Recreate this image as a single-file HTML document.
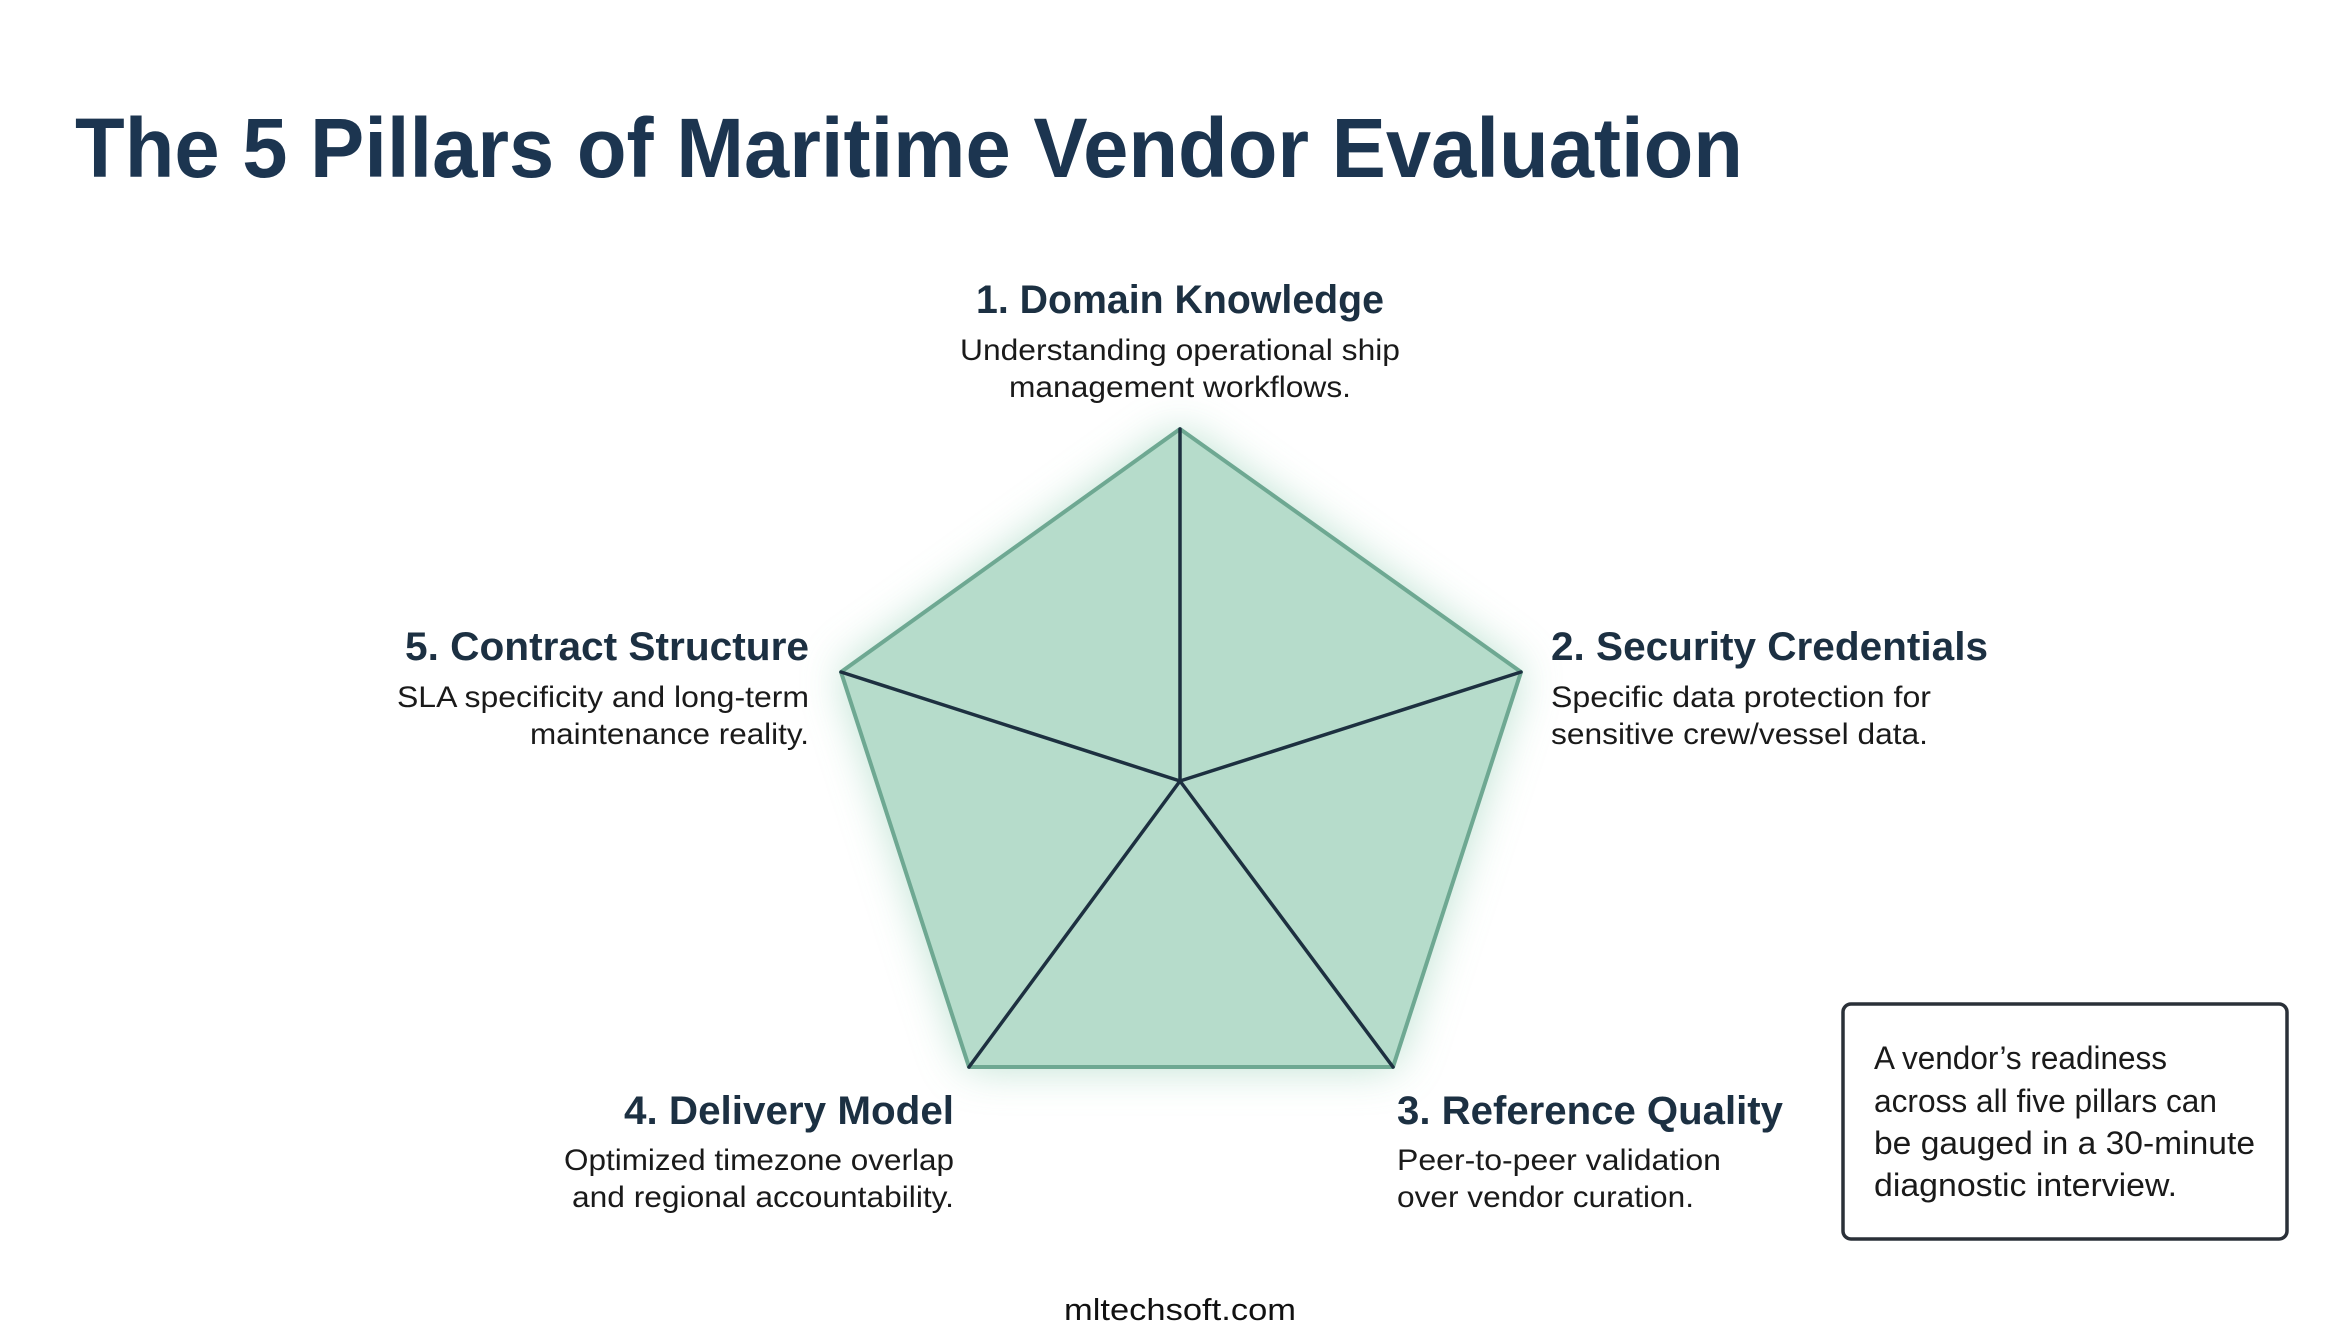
<!DOCTYPE html>
<html><head><meta charset="utf-8"><style>
html,body{margin:0;padding:0;background:#fff;}
svg{display:block;}
text{font-family:"Liberation Sans",sans-serif;}
</style></head><body>
<svg width="2346" height="1330" viewBox="0 0 2346 1330" xmlns="http://www.w3.org/2000/svg">
<defs>
<filter id="glow" x="-30%" y="-30%" width="160%" height="160%"><feGaussianBlur stdDeviation="22"/></filter>
</defs>
<rect width="2346" height="1330" fill="#fff"/>
<text x="75" y="177" font-size="84" font-weight="bold" fill="#1c3550" textLength="1668" lengthAdjust="spacingAndGlyphs">The 5 Pillars of Maritime Vendor Evaluation</text>

<polygon points="1180,429 1521,672 1393,1067 969,1067 841,672" fill="#a8d8c2" filter="url(#glow)" opacity="0.8"/>
<polygon points="1180,429 1521,672 1393,1067 969,1067 841,672" fill="#b6dccb" stroke="#6ea892" stroke-width="4" stroke-linejoin="round"/>
<g stroke="#1d3040" stroke-width="3.5" stroke-linecap="round">
<line x1="1180" y1="781" x2="1180" y2="429"/>
<line x1="1180" y1="781" x2="1521" y2="672"/>
<line x1="1180" y1="781" x2="1393" y2="1067"/>
<line x1="1180" y1="781" x2="969" y2="1067"/>
<line x1="1180" y1="781" x2="841" y2="672"/>
</g>

<g fill="#1c3042" font-weight="bold" font-size="40">
<text x="1180" y="313" text-anchor="middle" textLength="408" lengthAdjust="spacingAndGlyphs">1. Domain Knowledge</text>
<text x="809" y="660" text-anchor="end" textLength="404" lengthAdjust="spacingAndGlyphs">5. Contract Structure</text>
<text x="1551" y="660" textLength="437" lengthAdjust="spacingAndGlyphs">2. Security Credentials</text>
<text x="954" y="1124" text-anchor="end" textLength="330" lengthAdjust="spacingAndGlyphs">4. Delivery Model</text>
<text x="1397" y="1124" textLength="386" lengthAdjust="spacingAndGlyphs">3. Reference Quality</text>
</g>
<g fill="#1a1a1a" font-size="30">
<text x="1180" y="360" text-anchor="middle" textLength="440" lengthAdjust="spacingAndGlyphs">Understanding operational ship</text>
<text x="1180" y="397" text-anchor="middle" textLength="342" lengthAdjust="spacingAndGlyphs">management workflows.</text>
<text x="809" y="707" text-anchor="end" textLength="412" lengthAdjust="spacingAndGlyphs">SLA specificity and long-term</text>
<text x="809" y="744" text-anchor="end" textLength="279" lengthAdjust="spacingAndGlyphs">maintenance reality.</text>
<text x="1551" y="707" textLength="380" lengthAdjust="spacingAndGlyphs">Specific data protection for</text>
<text x="1551" y="744" textLength="377" lengthAdjust="spacingAndGlyphs">sensitive crew/vessel data.</text>
<text x="954" y="1170" text-anchor="end" textLength="390" lengthAdjust="spacingAndGlyphs">Optimized timezone overlap</text>
<text x="954" y="1207" text-anchor="end" textLength="382" lengthAdjust="spacingAndGlyphs">and regional accountability.</text>
<text x="1397" y="1170" textLength="324" lengthAdjust="spacingAndGlyphs">Peer-to-peer validation</text>
<text x="1397" y="1207" textLength="297" lengthAdjust="spacingAndGlyphs">over vendor curation.</text>
</g>

<rect x="1843" y="1004" width="444" height="235" rx="8" fill="#fff" stroke="#2a3038" stroke-width="3.5"/>
<g fill="#1a1a1a" font-size="32">
<text x="1874" y="1069" textLength="293" lengthAdjust="spacingAndGlyphs">A vendor’s readiness</text>
<text x="1874" y="1112" textLength="343" lengthAdjust="spacingAndGlyphs">across all five pillars can</text>
<text x="1874" y="1154" textLength="381" lengthAdjust="spacingAndGlyphs">be gauged in a 30-minute</text>
<text x="1874" y="1196" textLength="303" lengthAdjust="spacingAndGlyphs">diagnostic interview.</text>
</g>
<text x="1180" y="1320" text-anchor="middle" font-size="31" fill="#111" textLength="232" lengthAdjust="spacingAndGlyphs">mltechsoft.com</text>
</svg>
</body></html>
